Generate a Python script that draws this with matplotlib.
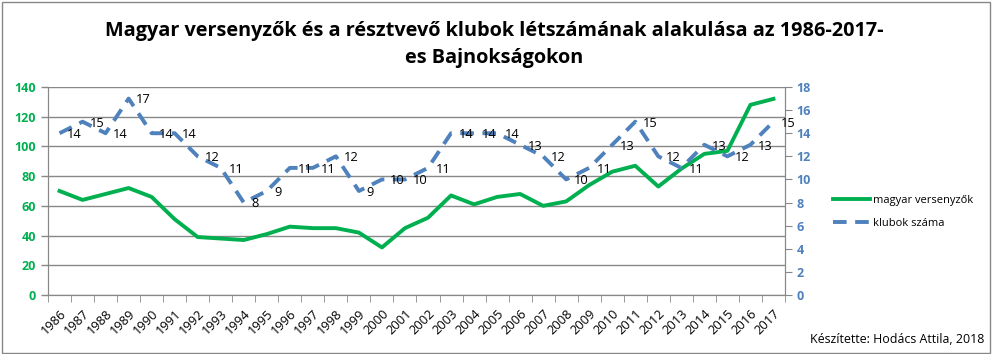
import matplotlib.pyplot as plt
from matplotlib.lines import Line2D
from matplotlib.patches import Rectangle
import numpy as np

# Data
years = list(range(1986, 2018))
versenyzok = [70, 64, 68, 72, 66, 51, 39, 38, 37, 41, 46, 45, 45, 42, 32, 45,
              52, 67, 61, 66, 68, 60, 63, 74, 83, 87, 73, 85, 95, 97, 128, 132]
klubok = [14, 15, 14, 17, 14, 14, 12, 11, 8, 9, 11, 11, 12, 9, 10, 10,
          11, 14, 14, 14, 13, 12, 10, 11, 13, 15, 12, 11, 13, 12, 13, 15]

green = '#00B050'
blue = '#4F81BD'
font = ['Open Sans', 'DejaVu Sans']

plt.rcParams['font.family'] = font

fig = plt.figure(figsize=(9.94, 3.54), dpi=100)
ax = fig.add_axes([0.0483, 0.1667, 0.7414, 0.5875])
ax2 = ax.twinx()

x = np.arange(len(years))

# Lines
ax.plot(x, versenyzok, color=green, linewidth=2.8, zorder=3)
ax2.plot(x, klubok, color=blue, linewidth=2.8, linestyle=(0, (3.5, 2.2)), zorder=3)

# Data labels for clubs (right of each point)
for xi, v in zip(x, klubok):
    ax2.annotate(str(v), (xi, v), textcoords='offset points', xytext=(5.5, -1),
                 ha='left', va='center', fontsize=9.3, color='black', zorder=4)

# Axes limits and ticks
ax.set_xlim(-0.5, len(years) - 0.5)
ax.set_ylim(0, 140)
ax.set_yticks(range(0, 141, 20))
ax2.set_ylim(0, 18)
ax2.set_yticks(range(0, 19, 2))

ax.set_xticks(x)
ax.set_xticklabels([str(y) for y in years], rotation=45, ha='right',
                   rotation_mode='anchor', fontsize=9.3)
ax.set_xticks(np.arange(-0.5, len(years)), minor=True)
ax.tick_params(axis='x', which='major', length=0, pad=9)
ax.tick_params(axis='x', which='minor', length=5, color='#888888')

ax.tick_params(axis='y', colors=green, labelsize=9, length=5, width=1)
ax.tick_params(axis='y', color='#888888')
for lbl in ax.get_yticklabels():
    lbl.set_fontweight('bold')
ax2.tick_params(axis='y', labelcolor=blue, labelsize=9, length=5, color='#888888')
for lbl in ax2.get_yticklabels():
    lbl.set_fontweight('bold')

ax.grid(axis='y', color='#888888', linewidth=1)
ax.set_axisbelow(True)

for a in (ax, ax2):
    a.spines['top'].set_visible(False)
    a.spines['left'].set_color('#888888')
    a.spines['right'].set_color('#888888')
    a.spines['bottom'].set_color('#888888')

# Title
fig.text(0.497, 0.912, 'Magyar versenyzők és a résztvevő klubok létszámának alakulása az 1986-2017-',
         ha='center', va='center', fontsize=14.3, fontweight='bold')
fig.text(0.497, 0.835, 'es Bajnokságokon', ha='center', va='center',
         fontsize=14.3, fontweight='bold')

# Legend
handles = [Line2D([0], [0], color=green, linewidth=2.8, label='magyar versenyzők'),
           Line2D([0], [0], color=blue, linewidth=2.8, linestyle=(0, (3.5, 2.2)), label='klubok száma')]
fig.legend(handles=handles, loc='center left', bbox_to_anchor=(0.828, 0.402),
           frameon=False, fontsize=8, handlelength=3.3, labelspacing=1.1, handletextpad=0.3)

# Credit
fig.text(0.99, 0.04, 'Készítette: Hodács Attila, 2018', ha='right', va='center', fontsize=8.9)

# Outer frame
fig.patches.append(Rectangle((0.002, 0.004), 0.994, 0.99, transform=fig.transFigure,
                             fill=False, edgecolor='#888888', linewidth=1))

plt.savefig('out.png', dpi=100)
